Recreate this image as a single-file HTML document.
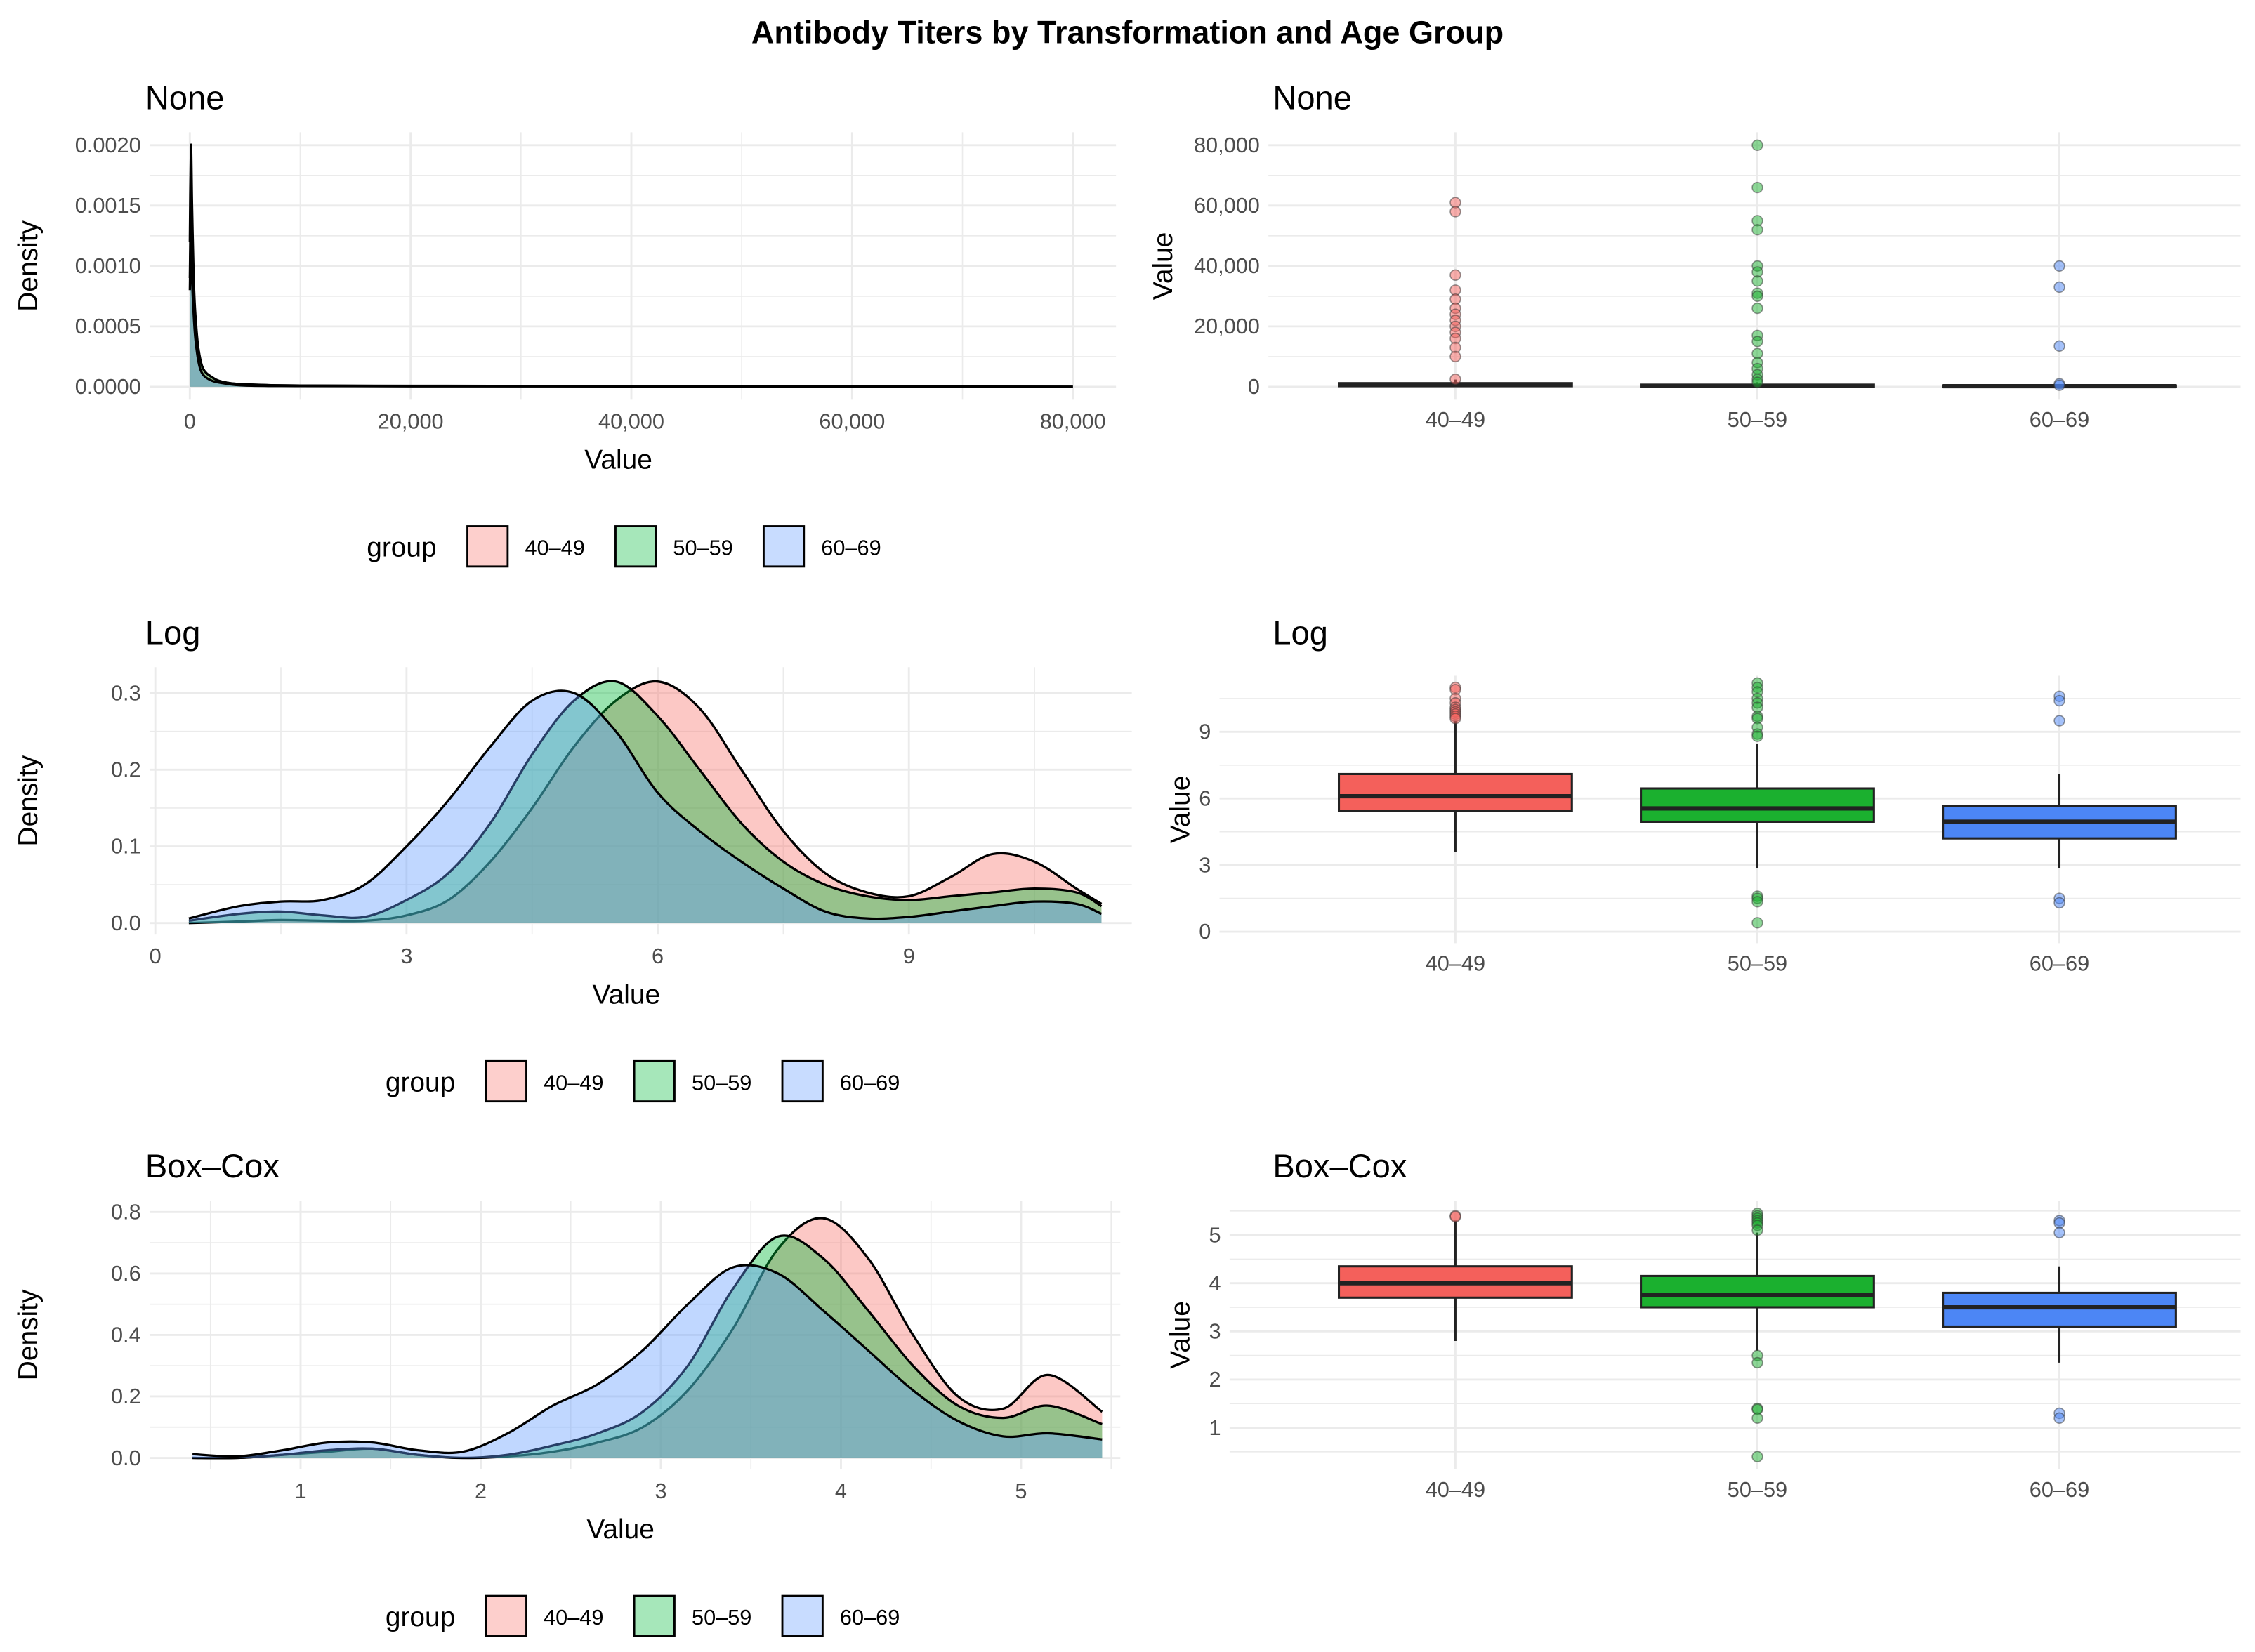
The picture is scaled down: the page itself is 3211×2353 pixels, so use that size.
<!DOCTYPE html>
<html><head><meta charset="utf-8">
<style>
html,body{margin:0;padding:0;background:#fff;}
svg{display:block;font-family:"Liberation Sans",Arial,sans-serif;}
</style></head>
<body>
<svg id="chart" width="3211" height="2353" viewBox="0 0 1568 1149" xmlns="http://www.w3.org/2000/svg">
<rect width="1568" height="1149" fill="#fff"/>
<text x="784" y="30" text-anchor="middle" font-size="22" font-weight="bold" fill="#000">Antibody Titers by Transformation and Age Group</text>
</svg>
<script>
const groups = ["40–49","50–59","60–69"];
const fillAlpha = ["#F8766D","#00BA38","#619CFF"];
const boxFill = ["#F4605B","#1BB02F","#4C86F5"];

// ---- None density data
const noneX = [0,100,200,350,500,800,1200,2000,3000,5000,10000,20000,40000,60000,80000];
const noneRed = [0.0012,0.0020,0.0015,0.0009,0.0006,0.0003,0.00015,0.00008,0.00004,0.00002,0.00001,0.000008,0.000006,0.000003,0];
const noneGreen = [0.0009,0.0015,0.0011,0.0007,0.0005,0.0003,0.00015,0.00008,0.00004,0.00002,0.00001,0.000006,0.000004,0.000002,0];
const noneBlue = [0.0008,0.0013,0.0009,0.0006,0.0004,0.0002,0.0001,0.00005,0.00003,0.00001,0.000006,0.000004,0.000003,0,0];
const noneXTicks = [0,20000,40000,60000,80000];
const noneXTickLabels = ["0","20,000","40,000","60,000","80,000"];
const noneYTicks = [0,0.0005,0.001,0.0015,0.002];
const noneYTickLabels = ["0.0000","0.0005","0.0010","0.0015","0.0020"];

// ---- Log density data
const logX = [0.4,1,1.5,2,2.5,3,3.5,4,4.5,5,5.5,6,6.5,7,7.5,8,8.5,9,9.5,10,10.5,11,11.3];
const logRed = [0,0.002,0.004,0.003,0.003,0.01,0.03,0.08,0.15,0.23,0.29,0.315,0.28,0.2,0.12,0.065,0.04,0.035,0.06,0.09,0.08,0.045,0.025];
const logGreen = [0.003,0.012,0.015,0.01,0.008,0.03,0.065,0.13,0.22,0.29,0.315,0.27,0.2,0.13,0.08,0.05,0.035,0.03,0.035,0.04,0.045,0.04,0.022];
const logBlue = [0.006,0.022,0.028,0.03,0.05,0.1,0.16,0.23,0.29,0.30,0.25,0.17,0.12,0.08,0.045,0.015,0.006,0.008,0.015,0.022,0.028,0.025,0.012];
const logXTicks = [0,3,6,9];
const logYTicks = [0,0.1,0.2,0.3];
const logYTickLabels = ["0.0","0.1","0.2","0.3"];

// ---- Box-Cox density data
const bcX = [0.4,0.65,0.9,1.15,1.4,1.65,1.9,2.15,2.4,2.65,2.9,3.15,3.4,3.65,3.9,4.15,4.4,4.65,4.9,5.15,5.45];
const bcRed = [0,0,0.01,0.02,0.03,0.01,0,0.005,0.02,0.05,0.1,0.22,0.42,0.68,0.78,0.65,0.4,0.2,0.16,0.27,0.15];
const bcGreen = [0,0,0.01,0.025,0.03,0.01,0,0.01,0.04,0.08,0.15,0.3,0.55,0.72,0.65,0.48,0.3,0.17,0.13,0.17,0.11];
const bcBlue = [0.012,0.005,0.025,0.05,0.05,0.025,0.02,0.08,0.17,0.24,0.35,0.5,0.62,0.6,0.48,0.35,0.22,0.12,0.07,0.08,0.06];
const bcXTicks = [1,2,3,4,5];
const bcYTicks = [0,0.2,0.4,0.6,0.8];
const bcYTickLabels = ["0.0","0.2","0.4","0.6","0.8"];

// ---- Box plot data [lowWhisker, q1, median, q3, highWhisker]
const noneBoxStats = [[0,200,600,1200,2400],[0,100,300,700,1500],[0,60,200,450,900]];
const noneOutliers = [[61000,58000,37000,32000,29000,26000,24000,22000,20000,18000,16000,13000,10000,2500],
  [80000,66000,55000,52000,40000,38000,35000,31000,30000,26000,17000,15000,11000,8000,6000,4000,2500,1500],
  [40000,33000,13500,1000,500]];
const noneBoxYTicks = [0,20000,40000,60000,80000];
const noneBoxYTickLabels = ["0","20,000","40,000","60,000","80,000"];

const logBoxStats = [[3.6,5.45,6.1,7.1,9.5],[2.85,4.95,5.55,6.45,8.45],[2.85,4.2,4.95,5.65,7.1]];
const logOutliers = [[11,10.9,10.5,10.3,10.1,10,9.9,9.8,9.7,9.6],
  [11.2,11.0,10.8,10.5,10.3,10.1,9.7,9.6,9.2,8.9,8.8,1.6,1.5,1.35,0.4],
  [10.6,10.4,9.5,1.5,1.3]];
const logBoxYTicks = [0,3,6,9];

const bcBoxStats = [[2.8,3.7,4.0,4.35,5.3],[2.6,3.5,3.75,4.15,5.05],[2.35,3.1,3.5,3.8,4.35]];
const bcOutliers = [[5.4,5.38],[5.45,5.4,5.35,5.3,5.25,5.2,5.1,2.5,2.35,1.4,1.38,1.2,0.4],[5.3,5.25,5.05,1.3,1.2]];
const bcBoxYTicks = [1,2,3,4,5];

const NS = "http://www.w3.org/2000/svg";
const svg = document.getElementById("chart");
function mk(tag, attrs, parent){
  const e = document.createElementNS(NS, tag);
  for (const k in attrs) e.setAttribute(k, attrs[k]);
  (parent||svg).appendChild(e);
  return e;
}
function lin(d0,d1,r0,r1){ return v => r0 + (v-d0)/(d1-d0)*(r1-r0); }
function smoothPath(pts){
  let d = "M"+pts[0][0]+","+pts[0][1];
  for (let i=0;i<pts.length-1;i++){
    const p0=pts[Math.max(0,i-1)], p1=pts[i], p2=pts[i+1], p3=pts[Math.min(pts.length-1,i+2)];
    const c1x=p1[0]+(p2[0]-p0[0])/6, c1y=p1[1]+(p2[1]-p0[1])/6;
    const c2x=p2[0]-(p3[0]-p1[0])/6, c2y=p2[1]-(p3[1]-p1[1])/6;
    d += " C"+c1x+","+c1y+" "+c2x+","+c2y+" "+p2[0]+","+p2[1];
  }
  return d;
}
function gridV(g, x, y0, y1, major){
  const l = mk("line",{x1:x,x2:x,y1:y0,y2:y1,stroke:"#EBEBEB","stroke-width":major?1.4:0.8},g);
  
  
}
function gridH(g, y, x0, x1, major){
  const l = mk("line",{x1:x0,x2:x1,y1:y,y2:y,stroke:"#EBEBEB","stroke-width":major?1.4:0.8},g);
  
  
}
function txt(g, x, y, s, size, anchor, fill, name, rot){
  const t = mk("text",{x:x,y:y,"font-size":size,"text-anchor":anchor,fill:fill},g);
  if (rot) t.setAttribute("transform","rotate(-90 "+x+" "+y+")");
  t.textContent = s;
  
  
  return t;
}

function densityPanel(name, title, cfg, xs, series, xTicks, xTickLabels, xMinor, yTicks, yTickLabels, yMinor){
  const g = mk("g",{});
  
  
  const sx = lin(cfg.xd[0],cfg.xd[1],cfg.xr[0],cfg.xr[1]);
  const sy = lin(cfg.yd[0],cfg.yd[1],cfg.yr[0],cfg.yr[1]);
  xMinor.forEach(v=>gridV(g,sx(v),cfg.top,cfg.bottom,false));
  yMinor.forEach(v=>gridH(g,sy(v),cfg.left,cfg.right,false));
  xTicks.forEach(v=>gridV(g,sx(v),cfg.top,cfg.bottom,true));
  yTicks.forEach(v=>gridH(g,sy(v),cfg.left,cfg.right,true));
  series.forEach((ys,i)=>{
    const pts = xs.map((x,j)=>[sx(x), sy(ys[j])]);
    const line = smoothPath(pts);
    const area = line+" L"+sx(xs[xs.length-1])+","+sy(0)+" L"+sx(xs[0])+","+sy(0)+" Z";
    const a = mk("path",{d:area,fill:fillAlpha[i],"fill-opacity":0.4,stroke:"none"},g);
    
    
    const l = mk("path",{d:line,fill:"none",stroke:"#000","stroke-width":1.6},g);
    
    
  });
  xTicks.forEach((v,i)=>txt(g,sx(v),cfg.bottom+20,xTickLabels[i],15,"middle","#4D4D4D","x-tick-label"));
  yTicks.forEach((v,i)=>txt(g,cfg.left-6,sy(v)+5,yTickLabels[i],15,"end","#4D4D4D","y-tick-label"));
  txt(g,(cfg.left+cfg.right)/2-10,cfg.bottom+48,"Value",19,"middle","#000","x-axis-title");
  txt(g,26,(cfg.top+cfg.bottom)/2,"Density",19,"middle","#000","y-axis-title",true);
  txt(g,101,cfg.top-16,title,23,"start","#000","panel-title");
  // legend
  const lg = mk("g",{},g);
  
  
  const ly = cfg.legY;
  txt(lg,cfg.legX,ly+7,"group",19,"start","#000","legend-title");
  groups.forEach((gr,i)=>{
    const kx = cfg.legX+70+i*103;
    mk("rect",{x:kx,y:ly-14,width:28,height:28,fill:"#fff",stroke:"none"},lg);
    const r2 = mk("rect",{x:kx,y:ly-14,width:28,height:28,fill:fillAlpha[i],"fill-opacity":0.35,stroke:"#000","stroke-width":1.4},lg);
    
    
    txt(lg,kx+40,ly+6,gr,15,"start","#000","legend-label");
  });
}

function boxPanel(name, title, cfg, stats, outliers, yTicks, yTickLabels, yMinor){
  const g = mk("g",{});
  
  
  const sy = lin(cfg.yd[0],cfg.yd[1],cfg.yr[0],cfg.yr[1]);
  const cx = [1012,1222,1432];
  const hw = 81;
  yMinor.forEach(v=>gridH(g,sy(v),cfg.left,cfg.right,false));
  yTicks.forEach(v=>gridH(g,sy(v),cfg.left,cfg.right,true));
  cx.forEach(x=>gridV(g,x,cfg.top,cfg.bottom,true));
  stats.forEach((s,i)=>{
    const x = cx[i];
    const w = mk("line",{x1:x,x2:x,y1:sy(s[0]),y2:sy(s[4]),stroke:"#222","stroke-width":1.5},g);
    
    
    const b = mk("rect",{x:x-hw,y:sy(s[3]),width:2*hw,height:Math.max(1,sy(s[1])-sy(s[3])),fill:boxFill[i],stroke:"#222","stroke-width":1.5},g);
    
    
    const m = mk("line",{x1:x-hw,x2:x+hw,y1:sy(s[2]),y2:sy(s[2]),stroke:"#222","stroke-width":3},g);
    
    
    outliers[i].forEach(v=>{
      const c = mk("circle",{cx:x,cy:sy(v),r:3.6,fill:boxFill[i],"fill-opacity":0.5,stroke:"#333","stroke-opacity":0.5,"stroke-width":0.8},g);
      
      
    });
    txt(g,x,cfg.bottom+19,groups[i],15,"middle","#4D4D4D","x-tick-label");
  });
  yTicks.forEach((v,i)=>txt(g,cfg.left-6,sy(v)+5,yTickLabels[i],15,"end","#4D4D4D","y-tick-label"));
  txt(g,cfg.ylabX,(cfg.top+cfg.bottom)/2,"Value",19,"middle","#000","y-axis-title",true);
  txt(g,885,cfg.titleY,title,23,"start","#000","panel-title");
}

densityPanel("density-none","None",
  {xd:[0,80000],xr:[132,746],yd:[0,0.002],yr:[269,101],left:104,right:776,top:92,bottom:278,legX:255,legY:380},
  noneX,[noneRed,noneGreen,noneBlue],noneXTicks,noneXTickLabels,[10000,30000,50000,70000],
  noneYTicks,noneYTickLabels,[0.00025,0.00075,0.00125,0.00175]);

densityPanel("density-log","Log",
  {xd:[0,9],xr:[108,632],yd:[0,0.3],yr:[642,482],left:104,right:787,top:464,bottom:650,legX:268,legY:752},
  logX,[logRed,logGreen,logBlue],logXTicks,logXTicks.map(String),[1.5,4.5,7.5,10.5],
  logYTicks,logYTickLabels,[0.05,0.15,0.25]);

densityPanel("density-boxcox","Box–Cox",
  {xd:[1,5],xr:[209,710],yd:[0,0.8],yr:[1014,843],left:104,right:779,top:835,bottom:1022,legX:268,legY:1124},
  bcX,[bcRed,bcGreen,bcBlue],bcXTicks,bcXTicks.map(String),[0.5,1.5,2.5,3.5,4.5,5.5],
  bcYTicks,bcYTickLabels,[0.1,0.3,0.5,0.7]);

boxPanel("box-none","None",
  {yd:[0,80000],yr:[269,101],left:882,right:1558,top:92,bottom:278,ylabX:815,titleY:76},
  noneBoxStats,noneOutliers,noneBoxYTicks,noneBoxYTickLabels,[10000,30000,50000,70000]);

boxPanel("box-log","Log",
  {yd:[0,9],yr:[648,509],left:848,right:1558,top:470,bottom:656,ylabX:827,titleY:448},
  logBoxStats,logOutliers,logBoxYTicks,logBoxYTicks.map(String),[1.5,4.5,7.5,10.5]);

boxPanel("box-boxcox","Box–Cox",
  {yd:[1,5],yr:[993,859],left:855,right:1558,top:835,bottom:1022,ylabX:827,titleY:819},
  bcBoxStats,bcOutliers,bcBoxYTicks,bcBoxYTicks.map(String),[0.5,1.5,2.5,3.5,4.5,5.5]);
</script>
</body></html>
